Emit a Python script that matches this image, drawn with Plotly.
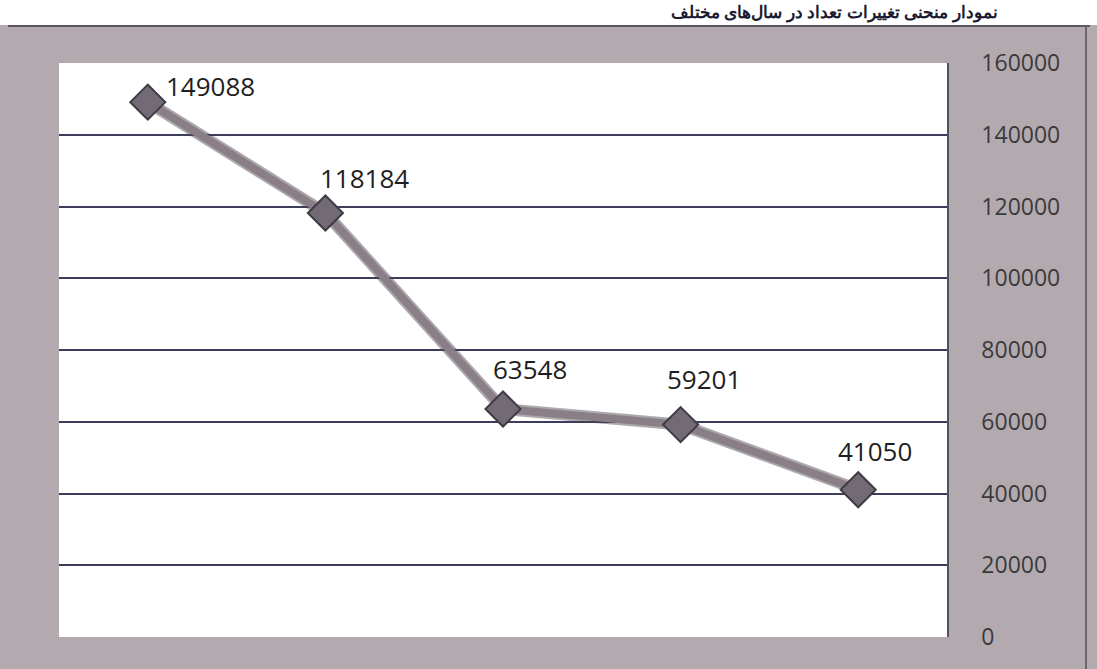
import plotly.graph_objects as go

categories = ["A", "B", "C", "D", "E"]
values = [149088, 118184, 63548, 59201, 41050]
y_ticks = [0, 20000, 40000, 60000, 80000, 100000, 120000, 140000, 160000]
title_text = "نمودار منحنی تغییرات تعداد در سال‌های مختلف"

# styling: label offsets in pixels (xshift, yshift)
label_offsets = [(63, 16), (39, 35), (27, 40), (23, 46), (17, 39)]

W, H = 1097, 669
L, R, T, B = 59, 150, 63, 32
pw, ph = W - L - R, H - T - B

def px_x(p):
    return (p - L) / pw

def px_y(p):
    return (H - B - p) / ph

fig = go.Figure()

fig.add_trace(go.Scatter(
    x=categories, y=values, mode="lines",
    line=dict(color="rgba(70,65,75,0.45)", width=12),
    hoverinfo="skip", showlegend=False,
))
fig.add_trace(go.Scatter(
    x=categories, y=values, mode="lines+markers",
    line=dict(color="#8a7f87", width=8),
    marker=dict(symbol="diamond", size=27, color="#726b75",
                line=dict(color="#3f3b44", width=2)),
    showlegend=False,
))

for i, (v, (dx, dy)) in enumerate(zip(values, label_offsets)):
    fig.add_annotation(x=i, y=v, text=str(v), showarrow=False,
                       xshift=dx, yshift=dy,
                       font=dict(family="Open Sans", size=26, color="#1e1e22"))

fig.add_shape(type="rect", xref="paper", yref="paper",
              x0=px_x(-20), x1=px_x(W + 20), y0=px_y(25), y1=px_y(-20),
              fillcolor="white", line=dict(width=0), layer="below")
fig.add_shape(type="line", xref="paper", yref="paper",
              x0=px_x(8), x1=px_x(1090), y0=px_y(26), y1=px_y(26),
              line=dict(color="#5a5560", width=2))
fig.add_shape(type="line", xref="paper", yref="paper",
              x0=px_x(1086), x1=px_x(1086), y0=px_y(26), y1=px_y(669),
              line=dict(color="#6a6570", width=2))

fig.add_annotation(xref="paper", yref="paper", x=px_x(1000), y=px_y(11),
                   xanchor="right", yanchor="middle", showarrow=False,
                   text="<b>" + title_text + "</b>",
                   font=dict(family="Noto Sans", size=17, color="#1a1a30"))

fig.update_layout(
    width=W, height=H,
    margin=dict(l=L, r=R, t=T, b=B, autoexpand=False),
    paper_bgcolor="#b3aab0",
    plot_bgcolor="white",
    xaxis=dict(type="category", showticklabels=False, showgrid=False,
               zeroline=False, showline=False, range=[-0.5, 4.5]),
    yaxis=dict(side="right", range=[0, 160000], tickvals=y_ticks,
               ticktext=[str(t) for t in y_ticks],
               showgrid=True, gridcolor="#3c3d5c", gridwidth=1.5,
               zeroline=False, showline=True, linecolor="#555060", linewidth=1.5,
               ticks="", ticklabelstandoff=28,
               tickfont=dict(family="Open Sans", size=23, color="#3a3a3a")),
)

fig.write_html("out.html", config={"displayModeBar": False},
               post_script="document.body.style.margin='0';")
